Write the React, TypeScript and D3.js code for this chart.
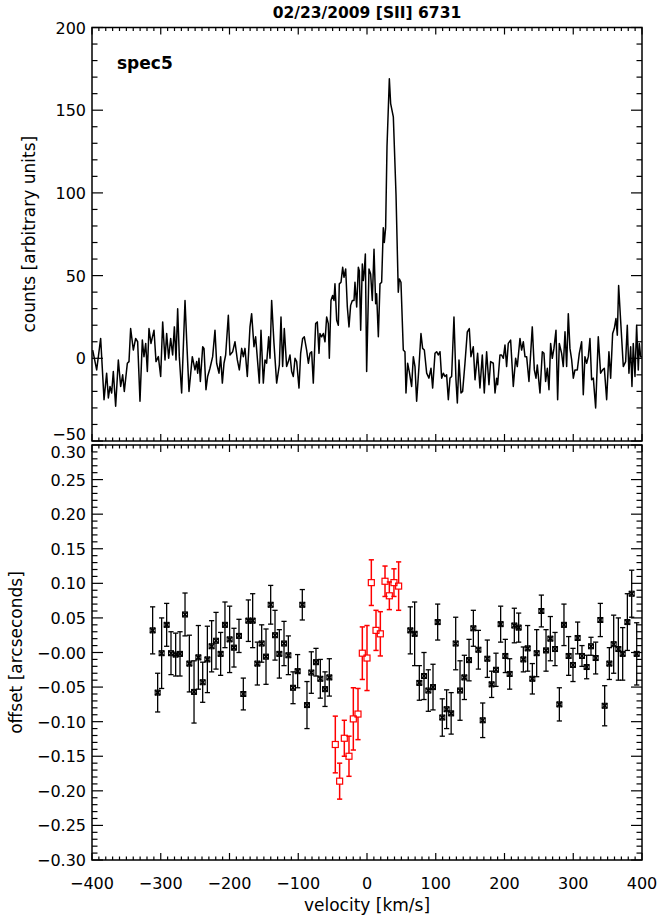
import React from 'react';
import * as d3 from 'd3';

// spectrum: velocity [km/s] and counts
const specVel = [
  -399.0, -393.2, -387.4, -382.5, -378.7, -376.2, -373.8, -371.4, -369.0, -365.6,
  -361.7, -358.3, -355.4, -353.0, -348.6, -346.2, -343.8, -339.9, -336.5, -333.6,
  -330.2, -326.8, -324.4, -321.9, -319.5, -317.1, -314.2, -309.8, -306.9, -303.5,
  -300.1, -297.2, -293.8, -291.4, -288.5, -285.6, -282.7, -280.2, -277.8, -275.4,
  -273.0, -269.6, -264.7, -262.3, -258.9, -254.1, -250.2, -247.8, -246.3, -244.4,
  -242.4, -239.0, -237.1, -234.2, -231.8, -228.4, -224.5, -221.1, -218.7, -215.3,
  -212.9, -210.4, -208.0, -205.6, -201.7, -199.3, -195.4, -192.0, -188.6, -185.7,
  -182.3, -179.9, -177.5, -174.1, -170.2, -167.8, -164.4, -162.0, -156.6, -154.2,
  -150.8, -148.4, -146.0, -143.0, -141.1, -138.7,
  -135.3, -131.4, -127.5, -125.1, -122.7, -120.3, -116.9, -114.4, -112.0, -109.6,
  -107.2, -104.7, -102.3, -98.9, -96.5, -93.6, -91.2, -87.8, -85.3, -82.9,
  -80.5, -78.1, -74.7, -72.3, -69.8, -68.4, -66.0, -63.5, -61.1, -58.7,
  -56.3, -54.8, -52.4, -50.0, -48.0, -46.6, -44.1, -41.7, -40.3, -37.8,
  -35.4, -33.5, -31.0, -28.6, -26.2, -23.8, -21.3, -18.9, -17.5, -15.0,
  -12.6, -11.2, -9.2, -6.8, -5.4, -3.9, -2.4, -0.5, 2.9, 5.3,
  7.7, 10.2, 12.6, 14.0, 16.5, 18.9, 21.3, 23.7, 25.2, 27.1,
  29.1, 32.5, 34.4, 38.3, 42.2, 45.5, 47.0, 49.4, 52.8, 55.2,
  56.7, 59.1, 61.5, 64.9, 67.4, 69.8, 72.2, 75.6, 78.5, 80.9,
  83.4, 86.8, 90.1, 93.1, 95.5, 98.9, 101.3, 103.7, 106.2, 108.6,
  111.0, 113.4, 115.8, 118.3, 120.7, 123.1, 126.5, 129.4, 131.4, 133.8,
  136.7, 139.1, 142.5, 145.9, 148.8, 151.2, 154.6, 157.1, 160.9, 164.3,
  167.7, 170.6, 174.0, 177.4, 179.8, 183.7, 186.2, 188.6, 190.0, 193.4,
  195.8, 198.3, 200.7, 203.1, 205.5, 208.9, 212.8, 216.2, 218.6, 222.5,
  224.9, 227.4, 229.8, 232.2, 235.6, 240.4, 243.4, 245.8, 247.7, 251.6,
  255.0, 257.4, 259.8, 262.3, 264.7, 267.1, 269.5, 271.9, 274.9, 277.3,
  279.7, 283.1, 285.5, 288.0, 290.4, 292.8, 295.2, 297.7, 300.1, 302.5,
  305.9, 308.8, 312.2, 314.6, 317.0, 319.5, 321.9, 324.3, 326.7, 329.2,
  332.6, 336.4, 339.8, 342.7, 345.2, 348.6, 351.9, 354.4, 357.3, 359.7,
  362.1, 364.1, 366.0, 368.9, 372.8, 376.2, 378.6, 381.0, 383.5, 385.4,
  387.3, 389.8, 392.2, 394.6, 396.1, 398.0, 400.0,
];
const specCounts = [
  5, -7, 12, -25, -9, -24, -17, -21, -8, -29,
  -1, -17, -10, -20, -3, -2, 18, 5, 12, 10,
  -26, 11, 1, 9, -8, 18, 9, 17, -2, 1,
  -11, 22, -1, 15, 0, 12, 2, 19, -1, 30,
  1, -21, 35, 11, -20, 1, -7, -2, -9, 0,
  -14, 7, 6, -19, -11, -6, 1, 17, -3, -9,
  1, -15, -3, 2, 26, 2, 4, 10, -1, -7,
  6, 1, 6, -11, 19, 27, 7, 13, -15, 17,
  -15, -1, -3, 13, 0, 35,
  9, -15, -4, 25, -5, 18, -5, -2, 2, -8,
  -11, 0, -2, -18, 3, 12, 13, 5, -3, 3,
  4, -15, 21, 22, 3, 15, 13, 15, 10, 25,
  21, 0, 35, 38, 35, 45, 23, 20, 45, 46,
  55, 49, 54, 31, 19, 32, 35, 35, 46, 31,
  55, 53, 17, 57, 47, 53, 63, -8, 54, 51,
  35, 66, 33, 39, 13, 45, 46, 79, 70, 79,
  128, 169, 154, 146, 99, 40, 48, 46, 5, 4,
  -21, -3, -8, -17, 1, -5, -26, -5, 15, 6,
  5, -9, -12, -6, -18, 3, 4, 2, 4, -12,
  -9, -11, -10, -25, -12, -11, 25, -13, -27, -1,
  -21, -20, -3, 16, 18, 1, 7, -13, 3, -18,
  2, -21, 4, -16, -2, -3, -21, -12, -16, 2,
  2, 0, 8, -5, 9, 11, -17, 0, -5, 12,
  5, 10, 1, 1, -14, 19, -7, -12, -4, -21,
  4, 3, -14, -6, -19, 9, 0, 6, 17, -25,
  9, 3, -5, 16, -5, 27, 6, -1, -12, -7,
  -7, 3, 10, -22, 1, -3, 1, 12, -13, -12,
  -30, 13, -9, -7, -6, -25, 4, -12, 15, 18,
  24, 14, 44, 23, -5, -2, 20, -9, 7, -17,
  9, -11, 20, -7, 9, 1, 1,
];

// offsets of the black points [arcsec] with their errors
const blackVel = [
  -311.8, -304.5, -298.7, -291.4, -285.1, -278.3, -272.0, -264.7, -258.4, -251.6,
  -245.3, -239.0, -232.2, -226.0, -219.6, -212.9, -206.6, -199.8, -193.5, -186.2,
  -179.9, -172.6, -166.3, -159.5, -153.2, -146.9, -140.1, -133.8, -127.5, -120.7,
  -114.4, -107.6, -100.9, -94.1, -87.3, -81.0, -74.2, -67.9, -61.1, -54.8,
  63.0, 69.3, 76.1, 82.9, 89.2, 96.0, 102.8, 109.5, 115.8, 122.4,
  129.0, 135.3, 141.6, 148.4, 154.7, 162.0, 168.3, 175.0, 181.3, 187.6,
  194.4, 201.2, 207.5, 214.3, 220.6, 227.4, 233.7, 240.5, 246.8, 253.6,
  260.4, 266.7, 273.5, 279.8, 286.5, 293.3, 299.6, 306.4, 312.7, 319.5,
  325.8, 332.6, 339.4, 345.7, 352.5, 358.8, 365.6, 371.9, 378.7, 385.0,
  392.3,
];
const blackOff = [
  0.032, -0.058, -0.001, 0.040, -0.001, -0.003, -0.002, 0.055, -0.016, -0.057,
  -0.007, -0.043, -0.010, 0.009, 0.017, -0.002, 0.040, 0.019, 0.007, 0.024,
  -0.060, 0.046, 0.046, -0.016, 0.013, -0.006, 0.069, 0.025, -0.002, 0.013,
  -0.004, -0.051, -0.027, 0.069, -0.076, -0.029, -0.014, -0.038, -0.053, -0.036,
  0.032, 0.027, -0.044, -0.034, -0.055, -0.050, 0.044, -0.094, -0.082, -0.088,
  0.013, -0.055, -0.036, -0.011, 0.035, 0.004, -0.098, -0.009, -0.046, -0.025,
  0.041, -0.005, -0.031, 0.039, 0.036, -0.010, 0.006, -0.038, -0.001, 0.060,
  0.003, 0.020, 0.005, -0.075, 0.040, -0.005, -0.018, 0.021, -0.005, -0.021,
  0.009, -0.008, 0.047, -0.077, -0.016, 0.012, 0.005, -0.002, 0.044, 0.085,
  -0.002,
];
const blackErr = [
  0.034, 0.028, 0.051, 0.031, 0.031, 0.031, 0.032, 0.031, 0.041, 0.045,
  0.046, 0.029, 0.048, 0.037, 0.041, 0.031, 0.033, 0.048, 0.028, 0.024,
  0.023, 0.030, 0.039, 0.031, 0.027, 0.040, 0.028, 0.036, 0.035, 0.032,
  0.028, 0.023, 0.024, 0.022, 0.034, 0.030, 0.020, 0.028, 0.025, 0.027,
  0.034, 0.046, 0.025, 0.034, 0.030, 0.033, 0.026, 0.027, 0.028, 0.030,
  0.038, 0.043, 0.032, 0.030, 0.026, 0.028, 0.025, 0.027, 0.019, 0.024,
  0.026, 0.024, 0.022, 0.025, 0.021, 0.018, 0.033, 0.022, 0.034, 0.023,
  0.030, 0.032, 0.024, 0.024, 0.030, 0.028, 0.024, 0.023, 0.015, 0.017,
  0.013, 0.023, 0.024, 0.029, 0.023, 0.042, 0.045, 0.038, 0.041, 0.034,
  0.045,
];

// red points (line core)
const redVel = [-46.1, -39.8, -33.0, -26.2, -19.9, -13.1, -6.8, 0.0, 6.3, 13.1, 19.4, 26.2, 32.5, 39.2, 46.0];
const redOff = [-0.133, -0.186, -0.124, -0.150, -0.096, -0.089, -0.001, -0.008, 0.101, 0.032, 0.027, 0.103, 0.082, 0.101, 0.096];
const redErr = [0.041, 0.026, 0.026, 0.029, 0.045, 0.037, 0.038, 0.047, 0.033, 0.029, 0.032, 0.022, 0.020, 0.020, 0.035];

const xTicks = [-400, -300, -200, -100, 0, 100, 200, 300, 400];
const countTicks = [200, 150, 100, 50, 0, -50];
const offTicks = [0.3, 0.25, 0.2, 0.15, 0.1, 0.05, 0, -0.05, -0.1, -0.15, -0.2, -0.25, -0.3];
const offTickLabels = ['0.30', '0.25', '0.20', '0.15', '0.10', '0.05', '\u22120.00', '\u22120.05', '\u22120.10', '\u22120.15', '\u22120.20', '\u22120.25', '\u22120.30'];

const title = '02/23/2009 [SII] 6731';
const FONT = 'DejaVu Sans, Liberation Sans, sans-serif';

const X0 = 92, X1 = 642;
const T0 = 27.5, T1 = 441;
const B0 = 445, B1 = 860;

const fmtCount = (v: number) => (v < 0 ? '\u2212' + Math.abs(v) : String(v));

function Frame({ y0, y1, yScale, yMinor, yMajor }: any) {
  const x = d3.scaleLinear().domain([-400, 400]).range([X0, X1]);
  const xMinor = d3.range(-40, 41).map(i => i * 10);
  const lines: JSX.Element[] = [];
  xMinor.forEach((v, i) => {
    const len = v % 100 === 0 ? 7 : 3.5;
    const px = x(v);
    lines.push(<line key={'xb' + i} x1={px} x2={px} y1={y1} y2={y1 - len} />);
    lines.push(<line key={'xt' + i} x1={px} x2={px} y1={y0} y2={y0 + len} />);
  });
  yMinor.forEach((v: number, i: number) => {
    const major = yMajor.some((m: number) => Math.abs(m - v) < 1e-9);
    const len = major ? 11 : 5.5;
    const py = yScale(v);
    lines.push(<line key={'yl' + i} x1={X0} x2={X0 + len} y1={py} y2={py} />);
    lines.push(<line key={'yr' + i} x1={X1} x2={X1 - len} y1={py} y2={py} />);
  });
  return (
    <g stroke="#000" strokeWidth={1.2}>
      {lines}
      <rect x={X0} y={y0} width={X1 - X0} height={y1 - y0} fill="none" strokeWidth={1.5} />
    </g>
  );
}

export default function App() {
  const x = d3.scaleLinear().domain([-400, 400]).range([X0, X1]);
  const yTop = d3.scaleLinear().domain([-50, 200]).range([T1, T0]);
  const yBot = d3.scaleLinear().domain([-0.3, 0.3]).range([B1, B0]);

  const spec = specVel.map((v, i) => [v, specCounts[i]] as [number, number]);
  const line = d3.line<[number, number]>().x(d => x(d[0])).y(d => yTop(d[1]));

  const topMinor = d3.range(-5, 21).map(i => i * 10);
  const botMinor = d3.range(-30, 31).map(i => i / 100);

  const cap = 2.6;

  // the labels at the shared edge of the two panels are nudged apart
  const countLabelY = (t: number) => (t === -50 ? yTop(t) - 1 : yTop(t) + 6);
  const offLabelY = (t: number) => (t === 0.3 ? yBot(t) + 13 : yBot(t) + 6);

  return (
    <svg width={664} height={918} style={{ position: 'absolute', left: 0, top: 0, background: '#fff' }}
      fontFamily={FONT}>
      <defs>
        <clipPath id="topClip">
          <rect x={X0} y={T0} width={X1 - X0} height={T1 - T0} />
        </clipPath>
      </defs>
      <rect width={664} height={918} fill="#fff" />

      <text x={367} y={18} textAnchor="middle" fontWeight="bold" fontSize={15.5}>{title}</text>

      {/* top panel: spectrum */}
      <path d={line(spec) || ''} fill="none" stroke="#000" strokeWidth={1.5}
        strokeLinejoin="round" clipPath="url(#topClip)" />
      <Frame y0={T0} y1={T1} yScale={yTop} yMinor={topMinor} yMajor={countTicks} />
      {countTicks.map(t => (
        <text key={'ct' + t} x={86} y={countLabelY(t)} textAnchor="end" fontSize={16}>{fmtCount(t)}</text>
      ))}
      <text x={117} y={69} fontWeight="bold" fontSize={17}>spec5</text>
      <text transform={`translate(35,${(T0 + T1) / 2}) rotate(-90)`} textAnchor="middle" fontSize={17}>
        counts [arbitrary units]
      </text>

      {/* bottom panel: offsets */}
      <g stroke="#000" strokeWidth={1.3}>
        {blackVel.map((v, i) => {
          const px = x(v);
          const yl = yBot(blackOff[i] - blackErr[i]);
          const yh = yBot(blackOff[i] + blackErr[i]);
          return (
            <g key={'be' + i}>
              <line x1={px} x2={px} y1={yl} y2={yh} />
              <line x1={px - cap} x2={px + cap} y1={yl} y2={yl} />
              <line x1={px - cap} x2={px + cap} y1={yh} y2={yh} />
            </g>
          );
        })}
      </g>
      <g stroke="#000">
        {blackVel.map((v, i) => {
          const px = x(v);
          const py = yBot(blackOff[i]);
          const s = 2.5;
          return (
            <g key={'bm' + i}>
              <rect x={px - s} y={py - s} width={2 * s} height={2 * s} fill="none" strokeWidth={1} />
              <line x1={px - s} x2={px + s} y1={py - s} y2={py + s} strokeWidth={1.6} />
              <line x1={px - s} x2={px + s} y1={py + s} y2={py - s} strokeWidth={1.6} />
            </g>
          );
        })}
      </g>
      <g stroke="#ff0000" strokeWidth={1.5}>
        {redVel.map((v, i) => {
          const px = x(v);
          const py = yBot(redOff[i]);
          const yl = yBot(redOff[i] - redErr[i]);
          const yh = yBot(redOff[i] + redErr[i]);
          const s = 3;
          return (
            <g key={'r' + i}>
              <line x1={px} x2={px} y1={yl} y2={py + s} />
              <line x1={px} x2={px} y1={py - s} y2={yh} />
              <line x1={px - cap} x2={px + cap} y1={yl} y2={yl} />
              <line x1={px - cap} x2={px + cap} y1={yh} y2={yh} />
              <rect x={px - s} y={py - s} width={2 * s} height={2 * s} fill="none" strokeWidth={1.2} />
            </g>
          );
        })}
      </g>
      <Frame y0={B0} y1={B1} yScale={yBot} yMinor={botMinor} yMajor={offTicks} />
      {offTicks.map((t, i) => (
        <text key={'ot' + i} x={86} y={offLabelY(t)} textAnchor="end" fontSize={16}>{offTickLabels[i]}</text>
      ))}
      <text transform={`translate(22,${(B0 + B1) / 2}) rotate(-90)`} textAnchor="middle" fontSize={17}>
        offset [arcseconds]
      </text>

      {xTicks.map(t => (
        <text key={'xt' + t} x={x(t)} y={889} textAnchor="middle" fontSize={16}>{fmtCount(t)}</text>
      ))}
      <text x={367} y={911} textAnchor="middle" fontSize={17}>velocity [km/s]</text>
    </svg>
  );
}
